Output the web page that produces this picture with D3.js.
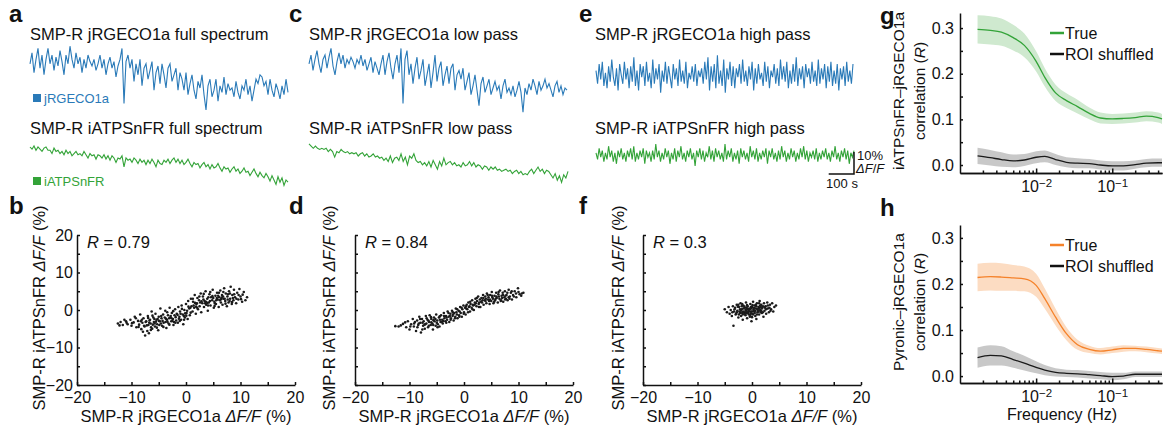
<!DOCTYPE html>
<html>
<head>
<meta charset="utf-8">
<script src="https://cdn.jsdelivr.net/npm/d3@7"></script>
<style>
body{margin:0;background:#fff}
svg{font-family:"Liberation Sans",Arial,Helvetica,sans-serif}
.ax path,.ax line{stroke:#111;stroke-width:1.5}
.ax text{font-size:16px;fill:#111;font-family:"Liberation Sans",Arial,sans-serif}
</style>
</head>
<body>
<div id="fig"></div>
<script>
// trace duration (s), all traces share the same time axis
var traceDuration = 1020

// dF/F (%) traces
var jrgecoFull = [6,11,2,8,13,4,10,1,8,13,6,10,3,9,5,12,7,1,10,6,14,8,4,11,6,9,2,8,4,10,7,5,8,3,6,10,4,8,1,6,9,4,7,0,5,8,
  13,-12,7,10,
  4,8,-2,6,1,8,-4,4,6,-1,3,7,-6,2,5,-3,6,1,-5,4,6,-2,1,4,-6,2,
  -1,-6,2,-8,-3,1,-6,-10,-2,-5,1,-8,-15,-4,-1,-9,-6,-1,-11,-4,-7,0,-8,-3,-6,
  -5,-9,-2,-7,-10,-4,-6,-1,-8,-4,-11,-6,-1,-3,1,0,-4,-2,-8,-1,-6,-9,-3,-6,-10,-4,-8,-1,-7]
var atpFull = [0,-1,0.5,-1.5,0,-1,-2,-0.5,0,-1.5,-1.5,-3,-0.5,-2,-1.5,-3,-2,-3.5,-1.5,-3,-2,-4,-3,-2,-3.5,-3,-4,-2,-3.5,-5,-3,-4,-3.5,-5.5,-3.5,-4,-5,-3.5,-5.5,-4,-6,-4,-5,-7,-5,-5.5,-4,-9,-5,-6,-5.5,-7,-5,-6,-7.5,-5.5,-7,-6,-8,-6,-7.5,-5.5,-7,-9,-6,-7.5,-8,-6,-7,-5.5,-7.5,-6,-5,-7,-5.5,-7.5,-6,-8,-7,-5.5,-7.5,-9,-7,-8,-7.5,-9.5,-8,-7,-9,-8,-10,-8,-9.5,-9,-7.5,-9.5,-11,-9,-10,-9.5,-11.5,-10,-9,-11,-10,-12,-11,-9.5,-11.5,-11,-13,-11.5,-10,-12,-13.5,-11.5,-13,-14,-12,-13.5,-15.5,-13,-15,-17,-13.5,-16,-14,-17.5,-15,-16]
var jrgecoLow = [6,10,3,8,12,6,2,8,10,4,9,13,5,1,7,11,6,10,4,8,6,9,7,4,8,6,10,5,8,3,6,9,2,7,4,1,6,10,1,7,11,4,-1,6,10,2,
  13,-12,8,12,
  1,6,-3,4,9,-1,3,8,-4,1,6,-5,2,10,-2,4,7,-4,1,5,-3,4,6,-6,1,3,
  -1,4,-6,-2,2,-8,-4,1,-6,-13,-3,0,-7,-4,-1,-8,-5,-2,-6,-4,-10,-4,-1,-7,-5,
  -8,-4,-9,-6,-2,-7,-16,-5,-8,-3,-6,-1,-4,-8,-2,-6,-4,-1,-5,-3,-6,-9,-4,-2,-7,-4,-8,-5,-6]
var atpLow = [0.5,-0.5,-1.5,-0.5,-1.5,-2,-1.5,-2,-1.5,-3,-2,-3,-5.5,-3,-3.5,-2,-3,-3.5,-3,-4,-3.5,-4,-3.5,-5,-4,-3.5,-5,-4,-5.5,-5,-4,-5.5,-5,-6,-5.5,-7,-6,-7.5,-5,-8,-6,-5.5,-7,-4,-7.5,-5.5,-9,-5,-6,-4,-7,-8,-7.5,-9,-8,-9.5,-7.5,-10,-7,-9,-11,-7.5,-9.5,-6,-9,-8,-7.5,-9,-8,-9.5,-9,-10,-8,-9.5,-9,-7.5,-9.5,-8,-10,-9,-9.5,-11,-9.5,-10,-11.5,-10,-11,-10,-11.5,-11,-12,-11.5,-11,-12,-11.5,-13,-12,-11.5,-13,-12,-13.5,-13,-13.5,-12,-11,-13,-11.5,-10,-12,-11,-13,-11.5,-12,-13.5,-15,-13,-16,-14,-17,-13.5,-15,-12]
var jrgecoHigh = [2,-4,5,-2,6,-5,1,-6,4,-3,7,-1,-5,3,-7,5,0,-4,6,-2,3,-6,4,-3,8,-5,2,-7,5,-1,4,-5,6,-3,1,-6,7,-4,3,-2,5,-8,2,-3,6,-4,4,-1,-6,5,-2,3,-5,7,-3,2,-4,6,-6,1,-2,4,-3,5,-5,2,-1,3,-4,6,-2,8,-7,4,-3,5,-6,9,-4,2,-5,7,-8,3,-2,6,-5,4,-6,3,-1,5,-4,7,-3,2,-5,4,-2,6,-7,3,-4,5,-2,1,-5,6,-3,4,-6,2,-1,5,-4,3,-5,7,-2,4,-3,6,-6,2,-4,5,-3,8,-5,3,-2,4,-6,5,-1,3,-4,6,-3,2,-5,7,-4,3,-2,5,-6,4,-3,6,-5,2,-4,5,-7,3,-2,4,-5,6,-3,2,-4,5]
var atpHigh = [1,-2,3,-1,2,-3,1,-2,4,-1,2,-3,1,-4,2,-1,3,-2,1,-3,2,-1,3,-2,4,-3,1,-2,2,-1,3,-4,2,-1,1,-3,2,-2,5,-1,2,-3,1,-2,3,-1,2,-4,1,-2,3,-3,2,-1,4,-2,1,-3,2,-1,3,-2,1,-5,2,-1,3,-2,2,-3,1,-1,4,-2,2,-3,3,-1,2,-2,1,-3,5,-2,2,-1,3,-3,1,-2,2,-4,3,-1,2,-2,1,-3,4,-1,2,-2,3,-3,1,-2,2,-1,3,-4,2,-1,3,-2,1,-3,2,-2,4,-1,2,-3,1,-2,3,-1,2,-3,1,-2,3,-1,4,-2,2,-3,1,-1,2,-2,3,-3,1,-2,2,-1,3,-2,1,-3,2,-1,4,-2,1,-3,2,-1,3,-2,2,-4,1,-1,2]

// scatter points [jRGECO1a, iATPSnFR] (%)
var scatterFull = [[-12.5,-3.6],[-12,-3.2],[-11.6,-4],[-11,-3],[-10.7,-3.8],[-10.2,-2.6],[-10,-4.2],[-9.6,-3.3],[-9.4,-1.8],[-9.1,-4.6],[-8.8,-2.9],[-8.6,-3.9],[-8.4,-1.2],[-8.2,-5.1],[-8,-3.4],[-7.8,-2.2],[-7.6,-4.4],[-7.5,-6.8],[-7.3,-3],[-7.1,-5.6],[-7,-1.6],[-6.9,-4],[-6.8,-6.2],[-6.6,-2.6],[-6.5,-3.6],[-6.3,-0.4],[-6.2,-5],[-6,-2],[-5.9,-3.2],[-5.7,-4.4],[-5.6,-1],[-5.4,-2.6],[-5.3,-3.8],[-5.1,-5.4],[-5,-1.8],[-4.8,-3],[-4.7,0.4],[-4.5,-2.2],[-4.4,-4.2],[-4.2,-1.2],[-4.1,-3.4],[-3.9,-2],[-3.8,-0.2],[-3.6,-4.8],[-3.5,-2.6],[-3.3,-1.4],[-3.2,-3.6],[-3,0.6],[-2.9,-2],[-2.7,-3],[-2.6,-0.8],[-2.4,-2.4],[-2.3,-4],[-2.1,-1.4],[-2,0.2],[-1.8,-2.8],[-1.7,-1],[-1.5,-3.4],[-1.4,0.8],[-1.2,-1.8],[-1.1,-0.4],[-0.9,-2.6],[-0.8,1.2],[-0.6,-1.2],[-0.5,-3.8],[-0.3,0],[-0.2,-2],[0,1.6],[0.1,-0.8],[0.3,-2.4],[0.4,2.4],[0.6,0.4],[0.7,-1.4],[0.9,3],[1,1],[1.2,-0.4],[1.3,2.2],[1.5,0.6],[1.6,4],[1.8,-1],[1.9,1.6],[2.1,3.2],[2.2,0.2],[2.4,2.6],[2.5,1],[2.7,4.4],[2.8,-0.6],[3,1.8],[3.1,3.6],[3.3,0.8],[3.4,2.4],[3.6,5],[3.7,1.4],[3.9,3],[4,-0.2],[4.2,2],[4.3,4.2],[4.5,1.2],[4.6,3.4],[4.8,2.6],[4.9,5.4],[5.1,0.6],[5.2,2.2],[5.4,3.8],[5.5,1.6],[5.7,4.6],[5.8,2.8],[6,0.8],[6.1,3.4],[6.3,5.2],[6.4,2],[6.6,4],[6.7,1.4],[6.9,3],[7,5.8],[7.2,2.4],[7.3,4.4],[7.5,1],[7.6,3.6],[7.8,2],[7.9,5],[8.1,3],[8.2,6.2],[8.4,1.6],[8.5,4],[8.7,2.6],[8.8,5.4],[9,3.4],[9.2,1.8],[9.4,4.6],[9.6,2.8],[9.8,5.6],[10,3.6],[10.3,2.2],[10.6,4.8],[10.9,2.6],[11.2,3.4],
  [-7.4,-3.2],[-6.7,-2.8],[-6.1,-3.9],[-5.5,-3.1],[-5.2,-2.4],[-4.6,-3.6],[-4.3,-2.9],[-3.7,-2.3],[-3.4,-3.1],[-2.8,-1.6],[-2.5,-2.9],[-1.9,-1.9],[-1.3,-2.3],[-1,-1],[-0.4,-1.6],[0.2,-0.2],[0.8,0.6],[1.4,1.2],[2,1.8],[2.6,2],[3.2,2.8],[3.5,1.8],[4.1,3.4],[4.4,2.4],[5,3.2],[5.3,1.8],[5.9,3.8],[6.2,2.6],[6.8,3.6],[7.1,3],[7.7,4.2],[8,2.4],[8.6,3.2],[-8.3,-3],[-7.7,-4.2],[-6.4,-4.6],[-5.8,-2.4],[-4.9,-4],[-3.1,-2.2],[-2.2,-3.2],
  [-11.3,-2.6],[-9.9,-3.5],[-9.2,-2.2],[-8.7,-4.5],[-8.1,-2.6],[-7.9,-5.8],[-7.2,-4.1],[-6.95,-2.1],[-6.45,-5.3],[-6.15,-1.5],[-5.75,-3.6],[-5.35,-4.7],[-4.95,-2.9],[-4.55,-1.6],[-4.15,-4.5],[-3.75,-3.2],[-3.45,-0.6],[-3.05,-3.9],[-2.65,-2.2],[-2.35,-0.3],[-1.95,-3.4],[-1.55,-1.3],[-1.15,-2.9],[-0.75,0.3],[-0.35,-2.6],[0.05,-1.5],[0.45,0.9],[0.85,-0.7],[1.25,3],[1.65,1.9],[2.05,0.6],[2.45,3.6],[2.85,2.3],[3.25,4.3],[3.65,2.2],[4.05,1.2],[4.45,4.8],[4.85,3.7],[5.25,1.1],[5.65,3.2],[6.05,4.6],[6.45,2.9],[6.85,4.8],[7.25,1.7],[7.65,2.8],[8.05,4.4],[8.45,2.1],[8.85,4.2],[9.25,3],[9.65,4],[10.1,2.9],[10.4,4.1],[-10.9,-3.4],[-12.2,-4.1],[3.9,1.9],[5.55,2.6],[6.55,3.3],[1.85,0.9],[-0.15,-0.9],[-6.75,-3.4]]
var scatterLow = [[-12.6,-4.3],[-12,-4.4],[-11.2,-3.7],[-10.6,-4.6],[-10.3,-3],[-10,-5.2],[-9.7,-3.8],[-9.4,-2.4],[-9.2,-4.4],[-9,-3.2],[-8.8,-5.6],[-8.6,-2.8],[-8.4,-4],[-8.2,-1.8],[-8,-3.4],[-7.9,-6],[-7.7,-2.4],[-7.5,-4.2],[-7.4,-3],[-7.2,-5],[-7,-1.6],[-6.9,-3.6],[-6.7,-2.6],[-6.6,-4.6],[-6.4,-3.2],[-6.3,-1.4],[-6.1,-4],[-6,-2.4],[-5.8,-3.6],[-5.7,-5.2],[-5.5,-2],[-5.4,-3],[-5.2,-4.2],[-5.1,-1.2],[-4.9,-2.8],[-4.8,-3.8],[-4.6,-2],[-4.5,-4.4],[-4.3,-3.2],[-4.2,-1.4],[-4,-2.6],[-3.9,-3.6],[-3.7,-0.8],[-3.6,-2.2],[-3.4,-3],[-3.3,-1.6],[-3.1,-2.6],[-3,-0.4],[-2.8,-1.8],[-2.7,-3.2],[-2.5,-1],[-2.4,-2.2],[-2.2,-0.2],[-2.1,-1.6],[-1.9,-2.8],[-1.8,-0.8],[-1.6,-1.8],[-1.5,0.4],[-1.3,-1.2],[-1.2,-2.2],[-1,-0.2],[-0.9,-1.4],[-0.7,0.8],[-0.6,-0.8],[-0.4,-1.8],[-0.3,0.2],[-0.1,1.2],[0,-0.6],[0.2,0.6],[0.3,-1.2],[0.5,1.4],[0.6,0.2],[0.8,2],[0.9,0.8],[1.1,-0.4],[1.2,1.6],[1.4,0.6],[1.5,2.6],[1.7,1.2],[1.8,0],[2,2],[2.1,3],[2.3,1],[2.4,2.4],[2.6,3.6],[2.7,1.6],[2.9,2.8],[3,0.8],[3.2,3.2],[3.3,2],[3.5,4],[3.6,1.4],[3.8,2.6],[3.9,3.6],[4.1,1.8],[4.2,4.4],[4.4,2.8],[4.5,3.4],[4.7,1.6],[4.8,4],[5,2.4],[5.1,4.8],[5.3,3],[5.4,1.8],[5.6,3.8],[5.7,2.6],[5.9,4.6],[6,3.2],[6.2,2],[6.3,4.2],[6.5,3],[6.6,5.2],[6.8,2.6],[6.9,3.8],[7.1,4.6],[7.2,2.2],[7.4,3.4],[7.5,5],[7.7,3],[7.8,4],[8,2.6],[8.2,5.4],[8.4,3.6],[8.6,4.6],[8.8,2.8],[9,4],[9.3,5],[9.6,3.4],[9.9,5.8],[10.2,4.2],[10.5,3.8],[10.9,4.6],
  [-8.3,-3.6],[-7.6,-3.4],[-7.1,-3.8],[-6.5,-2.9],[-6,-3.3],[-5.6,-2.7],[-5,-3.4],[-4.4,-2.6],[-3.8,-2.9],[-3.2,-2],[-2.6,-1.6],[-2,-1.2],[-1.4,-0.6],[-0.8,-0.4],[0.4,0.4],[1,1],[1.6,1.4],[2.2,1.8],[2.8,2],[3.4,2.6],[4,3],[4.6,2.4],[5.2,3.4],[5.8,3],[6.4,3.6],[7,3.2],[7.6,3.8],[8.2,3.4],
  [-11.6,-4.1],[-10.8,-3.3],[-9.85,-4.4],[-9.15,-3.6],[-8.55,-4.6],[-8.05,-2.4],[-7.65,-5.2],[-7.25,-3.9],[-6.85,-2.2],[-6.45,-4.2],[-6.05,-1.9],[-5.65,-4],[-5.25,-2.4],[-4.85,-4.6],[-4.45,-1.7],[-4.05,-3.2],[-3.65,-1.6],[-3.25,-3.4],[-2.85,-0.8],[-2.45,-2.6],[-2.05,-0.6],[-1.65,-2.2],[-1.25,0.2],[-0.85,-1.8],[-0.45,0.6],[-0.05,-1],[0.35,1],[0.75,-0.6],[1.15,2.2],[1.55,0.2],[1.95,1.4],[2.35,3.2],[2.75,0.8],[3.15,2.2],[3.55,3.2],[3.95,2.4],[4.35,4],[4.75,2.8],[5.15,3.8],[5.55,2.2],[5.95,3.6],[6.35,4.8],[6.75,2.4],[7.15,4],[7.55,2.8],[7.95,4.6],[8.35,3],[8.75,5],[9.15,3.6],[9.55,4.4],[10,4.8],[10.6,4.4]]
var scatterHigh = [[-5,0.2],[-4.6,-0.6],[-4.3,0.8],[-4.1,-1],[-3.9,0],[-3.7,-1.6],[-3.5,1],[-3.4,-4.2],[-3.3,-0.4],[-3.1,0.6],[-3,-1.2],[-2.8,1.4],[-2.7,-0.2],[-2.5,-2],[-2.4,0.8],[-2.2,-0.8],[-2.1,1.8],[-2,-1.6],[-1.9,0.2],[-1.7,-2.6],[-1.6,1.2],[-1.5,-0.6],[-1.3,0.6],[-1.2,-1.4],[-1.1,2],[-1,-0.2],[-0.9,-2.2],[-0.8,1],[-0.7,-0.8],[-0.5,0.4],[-0.4,-1.8],[-0.3,1.6],[-0.2,-0.4],[-0.1,-3],[0,0.8],[0.1,-1],[0.2,2.2],[0.3,-0.2],[0.5,1.2],[0.6,-1.6],[0.7,0.4],[0.8,-2.4],[0.9,1.8],[1,-0.6],[1.2,0.8],[1.3,-1.2],[1.4,2.4],[1.5,0],[1.7,1.4],[1.8,-0.8],[1.9,0.6],[2.1,-1.8],[2.2,1.8],[2.3,-0.2],[2.5,1],[2.6,-1],[2.8,2],[2.9,0.4],[3.1,-0.6],[3.3,1.4],[3.5,0.2],[3.7,1.8],[3.9,-0.4],[4.1,0.8],[4.4,1.2],
  [-2.8,-0.6],[-2.4,-1.2],[-2.2,0.2],[-1.8,-0.8],[-1.6,0.4],[-1.4,-1],[-1.2,0],[-1,0.6],[-0.8,-0.6],[-0.6,-1.2],[-0.4,0.2],[-0.2,0.8],[0,-0.4],[0.2,-1.2],[0.4,0.6],[0.6,-0.2],[0.8,1],[1,0.2],[1.2,-0.4],[1.4,0.6],[1.6,-0.6],[1.8,0.4],[2,1],[2.4,0.6],[-2,-0.2],[-1.2,-0.6],[-0.5,-0.4],[0.3,0.2],[1.1,-0.2],[-0.9,0.3],[0.5,-0.8],[-1.6,-0.4],[1.6,0.9],[-0.2,-0.9],
  [-3.2,0.2],[-2.9,-1],[-2.6,0.9],[-2.3,-0.4],[-1.9,1],[-1.7,-1.2],[-1.4,0.9],[-1.1,-0.9],[-0.9,1.3],[-0.6,0],[-0.3,-1.3],[-0.1,0.4],[0.1,1.3],[0.4,-0.4],[0.7,1.4],[0.9,-1.2],[1.2,0.4],[1.5,1.2],[1.7,-0.2],[2,-0.6],[2.3,0.8],[2.6,0.2],[2.9,1.2],[3.2,0.6],[-3.6,-0.6],[3.4,-0.2],[-2.5,1.4],[0,-1.9],[1.3,1.8],[-1.8,1.6]]
var rValues = ["0.79", "0.84", "0.3"]

// correlation vs frequency (Hz)
var freqs = [0.0017,0.0025,0.0035,0.005,0.007,0.01,0.013,0.018,0.025,0.035,0.05,0.07,0.1,0.14,0.2,0.28,0.4,0.45]
var atpTrue = [0.297,0.295,0.291,0.279,0.262,0.227,0.192,0.158,0.141,0.128,0.113,0.103,0.101,0.102,0.104,0.107,0.104,0.101]
var atpTrueErr = [0.031,0.031,0.030,0.028,0.026,0.022,0.020,0.018,0.016,0.015,0.013,0.012,0.011,0.011,0.011,0.011,0.011,0.011]
var atpShuf = [0.020,0.016,0.012,0.009,0.011,0.017,0.019,0.012,0.006,0.004,0.003,0.000,-0.002,-0.002,0.001,0.004,0.005,0.005]
var atpShufErr = [0.018,0.017,0.016,0.014,0.013,0.013,0.013,0.012,0.011,0.011,0.010,0.010,0.010,0.010,0.009,0.009,0.009,0.009]
var pyrTrue = [0.214,0.216,0.215,0.213,0.211,0.197,0.168,0.128,0.092,0.068,0.058,0.054,0.057,0.060,0.060,0.058,0.055,0.054]
var pyrTrueErr = [0.030,0.030,0.030,0.028,0.027,0.025,0.022,0.018,0.014,0.011,0.008,0.007,0.007,0.007,0.006,0.006,0.006,0.006]
var pyrShuf = [0.040,0.045,0.044,0.036,0.028,0.019,0.013,0.008,0.006,0.005,0.003,0.001,-0.001,0.000,0.004,0.004,0.004,0.004]
var pyrShufErr = [0.022,0.022,0.021,0.018,0.016,0.013,0.011,0.009,0.008,0.008,0.008,0.008,0.008,0.007,0.006,0.006,0.006,0.006]

var blue = "#2a7ab8", green = "#33a338", orange = "#f5822a"

var svg = d3.select("#fig").append("svg")
    .attr("width", 1173).attr("height", 435)

function txt(x, y, s, size, opts){
  opts = opts || {}
  return svg.append("text").attr("x", x).attr("y", y)
    .attr("font-size", size).attr("fill", opts.fill || "#111")
    .attr("font-weight", opts.bold ? "bold" : null)
    .attr("text-anchor", opts.anchor || "start")
    .text(s)
}

// panel letters
var letters = [["a",9,22],["c",289,22],["e",579,22],["g",880,24],["b",9,214],["d",289,214],["f",579,214],["h",880,216]]
letters.forEach(l => txt(l[1], l[2], l[0], "24px", {bold:true}))

// traces
var pxPerPct = 2.2
function trace(vals, x0, x1, yZero, color){
  var t = d3.scaleLinear().domain([0, traceDuration]).range([x0, x1])
  var ys = d3.scaleLinear().domain([0, 10]).range([yZero, yZero - 10*pxPerPct])
  var step = traceDuration/(vals.length-1)
  svg.append("path").datum(vals)
    .attr("d", d3.line().x((d,i)=>t(i*step)).y(d=>ys(d)))
    .attr("fill","none").attr("stroke",color).attr("stroke-width",1.1)
  return {t:t, y:ys}
}

txt(30, 40, "SMP-R jRGECO1a full spectrum", "16.5px")
txt(30, 134, "SMP-R iATPSnFR full spectrum", "16.5px")
txt(309, 40, "SMP-R jRGECO1a low pass", "16.5px")
txt(309, 134, "SMP-R iATPSnFR low pass", "16.5px")
txt(595, 40, "SMP-R jRGECO1a high pass", "16.5px")
txt(595, 134, "SMP-R iATPSnFR high pass", "16.5px")

trace(jrgecoFull, 30, 288, 77, blue)
trace(atpFull, 30, 288, 147, green)
trace(jrgecoLow, 309, 567, 77, blue)
trace(atpLow, 309, 568, 145, green)
trace(jrgecoHigh, 596, 853, 75, blue)
var eg = trace(atpHigh, 596, 854, 155, green)

// trace legends
svg.append("rect").attr("x",33).attr("y",94).attr("width",8).attr("height",8).attr("fill",blue)
txt(44, 103, "jRGECO1a", "13px", {fill:blue})
svg.append("rect").attr("x",33).attr("y",177).attr("width",8).attr("height",8).attr("fill",green)
txt(44, 186, "iATPSnFR", "13px", {fill:green})

// scale bar
var sbX = eg.t(traceDuration), sbY = 174
var barH = eg.y(0) - eg.y(10)
svg.append("path")
  .attr("d", "M" + eg.t(traceDuration-100) + "," + sbY + "H" + sbX + "V" + (sbY - barH))
  .attr("fill","none").attr("stroke","#111").attr("stroke-width",1.5)
txt(sbX + 3, 160, "10%", "13px")
var dff = txt(sbX + 2, 173, "", "13px")
dff.append("tspan").attr("font-style","italic").text("ΔF")
dff.append("tspan").text("/")
dff.append("tspan").attr("font-style","italic").text("F")
txt(sbX - 12, 188, "100 s", "13px", {anchor:"middle"})

// scatter panels
var pct = d3.scaleLinear().domain([-20,20])
function scatter(points, x0, rVal, yLabels, yLabX){
  var xs = pct.copy().range([x0, x0 + 218])
  var ys = pct.copy().range([385, 235])
  var g = svg.append("g")
  var tv = d3.range(-20, 21, 5)
  g.append("g").attr("class","ax").attr("transform","translate(0,385)")
    .call(d3.axisBottom(xs).tickValues(tv).tickSize(-3).tickSizeOuter(0).tickPadding(7)
      .tickFormat(d => d % 10 === 0 ? d3.format("")(d) : ""))
  g.append("g").attr("class","ax").attr("transform","translate(" + x0 + ",0)")
    .call(d3.axisLeft(ys).tickValues(tv).tickSize(-3).tickSizeOuter(0).tickPadding(4)
      .tickFormat(d => yLabels && d % 10 === 0 ? d3.format("")(d) : ""))
  g.append("g").selectAll("circle").data(points).enter().append("circle")
    .attr("cx", d => xs(d[0])).attr("cy", d => ys(d[1])).attr("r", 1.3)
    .attr("fill", "#1a1a1a")
  var r = g.append("text").attr("x", x0 + 10).attr("y", 248).attr("font-size","16.5px").attr("fill","#111")
  r.append("tspan").attr("font-style","italic").text("R")
  r.append("tspan").text(" = " + rVal)
  var xl = g.append("text").attr("x", x0 + 109).attr("y", 422).attr("font-size","16.5px")
    .attr("text-anchor","middle").attr("fill","#111")
  xl.append("tspan").text("SMP-R jRGECO1a ")
  xl.append("tspan").attr("font-style","italic").text("ΔF/F")
  xl.append("tspan").text(" (%)")
  var yl = g.append("text").attr("transform","translate(" + yLabX + ",308) rotate(-90)")
    .attr("font-size","16.5px").attr("text-anchor","middle").attr("fill","#111")
  yl.append("tspan").text("SMP-R iATPSnFR ")
  yl.append("tspan").attr("font-style","italic").text("ΔF/F")
  yl.append("tspan").text(" (%)")
}
scatter(scatterFull, 77, rValues[0], true, 45)
scatter(scatterLow, 355, rValues[1], false, 335)
scatter(scatterHigh, 643, rValues[2], false, 624)

// correlation panels
var fx = d3.scaleLog().domain([0.001, 0.45]).range([960, 1162])
var minors = []
;[0.001, 0.01, 0.1].forEach(b => d3.range(2, 10).forEach(m => { if (b*m <= 0.45) minors.push(b*m) }))

function corrPanel(yTop, yBot, trueV, trueE, shufV, shufE, color, band, label1, showXLabel){
  var ys = d3.scaleLinear().domain([yBot.v, yTop.v]).range([yBot.px, yTop.px])
  var g = svg.append("g")
  var area = (v, e) => d3.area().x((d,i)=>fx(freqs[i])).y0((d,i)=>ys(v[i]-e[i])).y1((d,i)=>ys(v[i]+e[i])).curve(d3.curveMonotoneX)
  var line = d3.line().x((d,i)=>fx(freqs[i])).y(d=>ys(d)).curve(d3.curveMonotoneX)
  g.append("path").datum(shufV).attr("d", area(shufV, shufE)).attr("fill","#b5b5b5").attr("opacity",0.75)
  g.append("path").datum(trueV).attr("d", area(trueV, trueE)).attr("fill",band)
  g.append("path").datum(shufV).attr("d", line).attr("fill","none").attr("stroke","#1a1a1a").attr("stroke-width",1.3)
  g.append("path").datum(trueV).attr("d", line).attr("fill","none").attr("stroke",color).attr("stroke-width",1.3)

  var axY = yBot.px
  g.append("g").attr("class","ax").attr("transform","translate(0," + axY + ")")
    .call(d3.axisBottom(fx).tickValues(minors).tickSize(-2.5).tickSizeOuter(0).tickFormat(""))
  var xa = g.append("g").attr("class","ax").attr("transform","translate(0," + axY + ")")
    .call(d3.axisBottom(fx).tickValues([0.01, 0.1]).tickSize(-4.5).tickSizeOuter(0).tickPadding(8).tickFormat(""))
  xa.selectAll(".tick text").each(function(d){
    var t = d3.select(this)
    t.append("tspan").text("10")
    t.append("tspan").attr("dy","-0.45em").attr("font-size","11.5px").text("−" + Math.round(-Math.log10(d)))
  })
  g.append("g").attr("class","ax").attr("transform","translate(960,0)")
    .call(d3.axisLeft(ys).tickValues([0, 0.05, 0.1, 0.15, 0.2, 0.25, 0.3]).tickSize(-3).tickSizeOuter(0).tickPadding(6)
      .tickFormat(d => [0, 0.1, 0.2, 0.3].some(v => Math.abs(v-d) < 1e-9) ? d3.format(".1f")(d) : ""))

  // y label, two lines
  var cy = (yTop.px + yBot.px)/2 - 2
  g.append("text").attr("transform","translate(904," + cy + ") rotate(-90)")
    .attr("font-size","15.5px").attr("text-anchor","middle").attr("fill","#111").text(label1)
  var yl2 = g.append("text").attr("transform","translate(925," + cy + ") rotate(-90)")
    .attr("font-size","15.5px").attr("text-anchor","middle").attr("fill","#111")
  yl2.append("tspan").text("correlation (")
  yl2.append("tspan").attr("font-style","italic").text("R")
  yl2.append("tspan").text(")")

  // legend
  var ly = yTop.px + 20
  g.append("line").attr("x1",1050).attr("x2",1064).attr("y1",ly).attr("y2",ly).attr("stroke",color).attr("stroke-width",2.5)
  g.append("text").attr("x",1065).attr("y",ly+5.5).attr("font-size","16px").attr("fill","#111").text("True")
  g.append("line").attr("x1",1050).attr("x2",1064).attr("y1",ly+21).attr("y2",ly+21).attr("stroke","#111").attr("stroke-width",2.5)
  g.append("text").attr("x",1065).attr("y",ly+26.5).attr("font-size","16px").attr("fill","#111").text("ROI shuffled")

  if (showXLabel) {
    g.append("text").attr("x",1062).attr("y",420).attr("font-size","16px").attr("text-anchor","middle")
      .attr("fill","#111").text("Frequency (Hz)")
  }
}
corrPanel({v:0.333, px:13}, {v:-0.0175, px:173}, atpTrue, atpTrueErr, atpShuf, atpShufErr,
  green, "#cfe9cf", "iATPSnFR–jRGECO1a", false)
corrPanel({v:0.328, px:225}, {v:-0.015, px:383}, pyrTrue, pyrTrueErr, pyrShuf, pyrShufErr,
  orange, "#fcdcc2", "Pyronic–jRGECO1a", true)
</script>
</body>
</html>
